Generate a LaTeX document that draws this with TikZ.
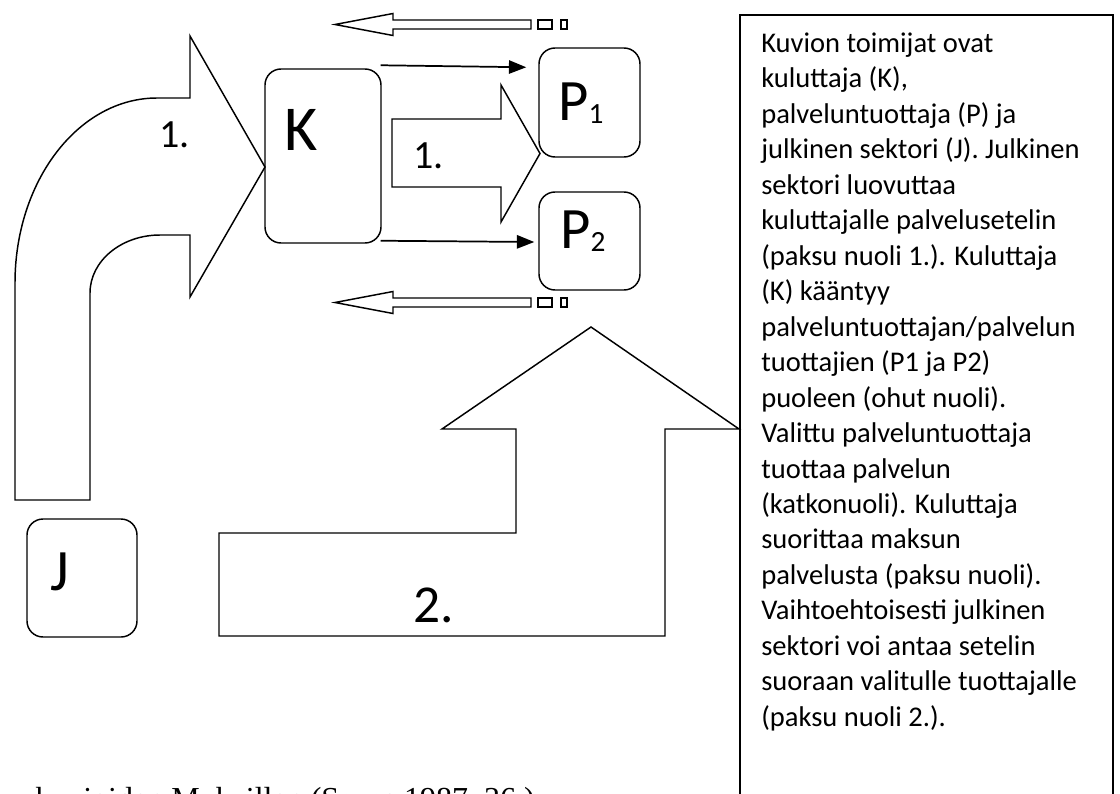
\documentclass[tikz,border=0pt]{standalone}
\usepackage{fontspec}
\setmainfont{Carlito}
\newfontfamily\captionserif{Liberation Serif}
\usetikzlibrary{arrows.meta,calc}
\newcommand{\lowsub}[1]{{\fontsize{22}{26}\selectfont\raisebox{-2.25pt}{#1}}}

\begin{document}
\begin{tikzpicture}[
  x=0.75pt, y=-0.75pt,
  actor/.style={draw, rounded corners=12pt, line width=1.1pt, inner sep=0pt},
  letter/.style={font=\fontsize{44}{52}\selectfont, inner sep=0pt, anchor=base west},
  num/.style={font=\fontsize{30}{36}\selectfont, inner sep=0pt, anchor=base west},
  block/.style={draw, line width=1.1pt, line join=miter},
  thin arrow/.style={line width=1.3pt, -{Triangle[length=13pt,width=10pt]}}
]
\path[use as bounding box, clip] (0,0) rectangle (1120,793);

% actors
\node[actor, minimum width=87pt, minimum height=130.5pt] (K) at (323,156) {};
\node[letter, font=\fontsize{48}{56}\selectfont] (Ktext) at (284,150) {K};
\node[actor, minimum width=75.75pt, minimum height=81.75pt] (P1) at (589.5,102.5) {};
\node[letter] (P1text) at (558,120) {P\lowsub{1}};
\node[actor, minimum width=75.75pt, minimum height=73.5pt] (P2) at (589.5,241) {};
\node[letter] (P2text) at (560,248) {P\lowsub{2}};
\node[actor, minimum width=82.5pt, minimum height=88.5pt] (J) at (82,578) {};
\node[letter] (Jtext) at (50,590) {J};

% thick arrow 1. from J to K
\draw[block] (15,500) -- (15,283)
  arc[start angle=180, end angle=90, x radius=106.5pt, y radius=138.75pt]
  -- (190,98) -- (190,36) -- (265,167) -- (190,297) -- (190,235) -- (160,235)
  arc[start angle=90, end angle=180, x radius=52.5pt, y radius=43.5pt]
  -- (90,500) -- cycle;
\node[num] (one) at (159,147) {1.};

% thick arrow 1. from K to P
\draw[block] (392,119) -- (501,119) -- (501,85) -- (540,153.5) -- (501,222)
  -- (501,187) -- (392,187) -- cycle;
\node[num] (onek) at (413,168) {1.};

% thin arrows
\draw[thin arrow] ($(K.north east)+(-1,-3)$) -- ($(P1.north west)+(-12,20)$);
\draw[thin arrow] ($(K.south east)+(-1,-3)$) -- ($(P2.west)+(-4,1)$);

% striped arrows (service)
\draw[block] (335,24.5) -- (393,13.5) -- (393,20) -- (531,20) -- (531,29)
  -- (393,29) -- (393,35.5) -- cycle;
\draw[block] (538,20) rectangle (552,29) (561,20) rectangle (567,29);
\draw[block] (335,302.5) -- (393,291.5) -- (393,298) -- (531,298) -- (531,307)
  -- (393,307) -- (393,313.5) -- cycle;
\draw[block] (538,298) rectangle (552,307) (561,298) rectangle (567,307);

% thick arrow 2.
\draw[block] (591,327) -- (739,429) -- (665,429) -- (665,636) -- (219,636)
  -- (219,533) -- (516,533) -- (516,429) -- (442,429) -- cycle;
\node[num, font=\fontsize{40}{48}\selectfont] (two) at (413,622) {2.};

% explanation
\node[draw, line width=1.5pt, anchor=north west, minimum width=279.75pt,
  minimum height=615pt, inner sep=0pt] (note) at (739,14) {};
\node[anchor=north west, inner sep=0pt, align=left,
  font=\fontsize{21.4}{26.6}\selectfont] (notetext) at (761,27.3) {\strut Kuvion toimijat ovat\\
kuluttaja (K),\\
palveluntuottaja (P) ja\\
julkinen sektori (J). Julkinen\\
sektori luovuttaa\\
kuluttajalle palvelusetelin\\
(paksu nuoli 1.). Kuluttaja\\
(K) kääntyy\\
palveluntuottajan/palvelun\\
tuottajien (P1 ja P2)\\
puoleen (ohut nuoli).\\
Valittu palveluntuottaja\\
tuottaa palvelun\\
(katkonuoli). Kuluttaja\\
suorittaa maksun\\
palvelusta (paksu nuoli).\\
Vaihtoehtoisesti julkinen\\
sektori voi antaa setelin\\
suoraan valitulle tuottajalle\\
(paksu nuoli 2.).};

\node[anchor=base west, inner sep=0pt, font=\captionserif\fontsize{24}{29}\selectfont]
  (caption) at (35,809) {kuvioiden Mukaillen (Savas 1987, 36.)};
\end{tikzpicture}
\end{document}
